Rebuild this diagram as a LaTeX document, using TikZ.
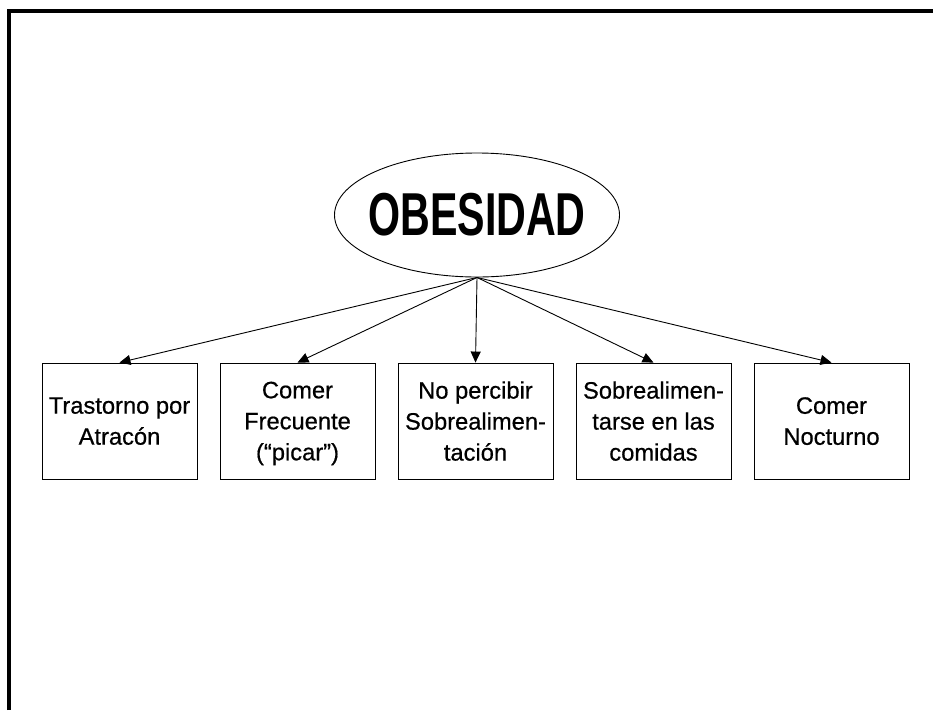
\documentclass[tikz,border=0pt]{standalone}
\usepackage{fontspec}
\setmainfont{Liberation Sans}
\newfontfamily\cajafont[FakeBold=0.6]{Liberation Sans}
\newfontfamily\titlefont[FakeStretch=0.68]{Liberation Sans Bold}
\usetikzlibrary{shapes.geometric, arrows.meta}

\begin{document}
\begin{tikzpicture}[x=1pt, y=-1pt,
  caja/.style={draw, line width=0.9pt, minimum width=155pt, minimum height=116pt, inner sep=0pt, align=center, text depth=0pt, font=\cajafont\fontsize{23.7}{31}\selectfont},
  flecha/.style={line width=0.9pt, -{Triangle[length=11pt, width=10pt]}}]
\useasboundingbox (0,0) rectangle (933,710);
\draw[line width=4pt] (9,710) -- (9,11) -- (933,11);

\node[draw, ellipse, line width=0.9pt, minimum width=285pt, minimum height=124pt, inner sep=0pt] (obesidad) at (477,215) {};
\node[font=\titlefont\fontsize{60.6}{70}\selectfont] (titulo) at (obesidad) {OBESIDAD};

\node[caja] (atracon) at (119.5,421) {Trastorno por\\Atracón};
\node[caja] (picar) at (297.5,421) {Comer\\Frecuente\\(“picar”)};
\node[caja] (percibir) at (475.5,421) {No percibir\\Sobrealimen-\\tación};
\node[caja] (comidas) at (653.5,421) {Sobrealimen-\\tarse en las\\comidas};
\node[caja] (nocturno) at (831.5,421) {Comer\\Nocturno};

\draw[flecha] (obesidad.south) -- (atracon.north);
\draw[flecha] (obesidad.south) -- (picar.north);
\draw[flecha] (obesidad.south) -- (percibir.north);
\draw[flecha] (obesidad.south) -- (comidas.north);
\draw[flecha] (obesidad.south) -- (nocturno.north);
\end{tikzpicture}
\end{document}
